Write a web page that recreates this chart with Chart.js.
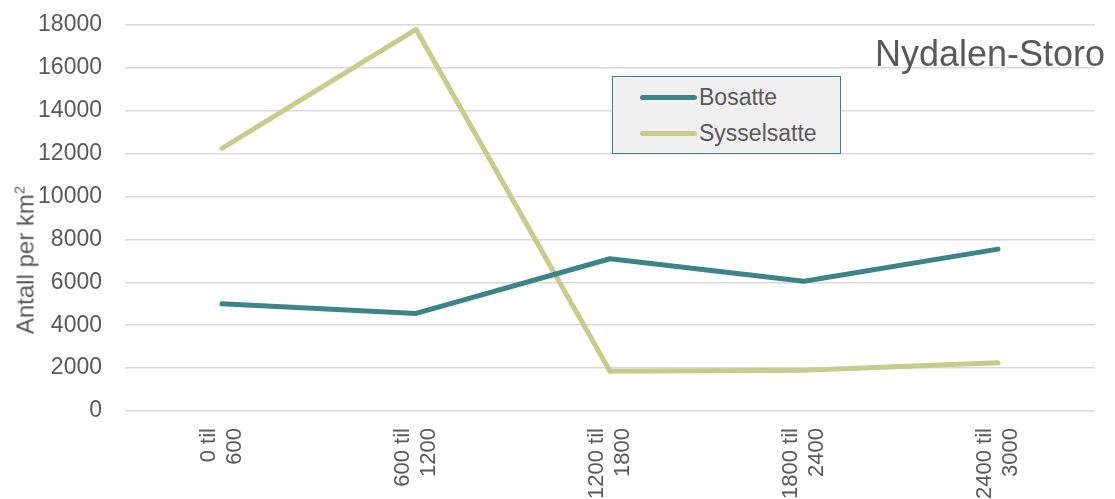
<!DOCTYPE html>
<html>
<head>
<meta charset="utf-8">
<script src="https://cdn.jsdelivr.net/npm/chart.js@4/dist/chart.umd.min.js"></script>
<style>
  body { margin: 0; background: #fff; font-family: "Liberation Sans", Arial, sans-serif; }
  #wrap { position: relative; width: 1115px; height: 499px; }
  #title { position: absolute; left: 875px; top: 33px; font-size: 36px; color: #595959; white-space: nowrap; }
  #ytitle { position: absolute; left: 25px; top: 260px; font-size: 24px; color: #595959; white-space: nowrap;
            transform: translate(-50%, -50%) rotate(-90deg); }
  #legend { position: absolute; left: 612px; top: 76px; width: 227px; height: 76px; background: #f0f0f0; border: 1.5px solid #3b8589; }
  .item { position: absolute; left: 27px; font-size: 23px; color: #595959; display: flex; align-items: center; }
  .item span.ln { display: inline-block; width: 57px; height: 5px; border-radius: 3px; margin-right: 2px; }
</style>
</head>
<body>
<div id="wrap">
  <canvas id="chart" width="1115" height="499"></canvas>
  <div id="title">Nydalen-Storo</div>
  <div id="ytitle">Antall per km<sup style="font-size:15px">2</sup></div>
  <div id="legend">
    <div class="item" style="top:7px"><span class="ln" style="background:#3b8589"></span>Bosatte</div>
    <div class="item" style="top:43px"><span class="ln" style="background:#c6cd8b"></span>Sysselsatte</div>
  </div>
</div>
<script>
const categories = [['0 til', '600'], ['600 til', '1200'], ['1200 til', '1800'], ['1800 til', '2400'], ['2400 til', '3000']];
const bosatte = [5000, 4550, 7100, 6050, 7550];
const sysselsatte = [12250, 17800, 1850, 1900, 2250];
const yTicks = [0, 2000, 4000, 6000, 8000, 10000, 12000, 14000, 16000, 18000];

const ctx = document.getElementById('chart');

new Chart(ctx, {
  type: 'line',
  data: {
    labels: categories,
    datasets: [{
      label: 'Bosatte',
      data: bosatte,
      borderColor: '#3b8589',
      borderWidth: 5,
      borderCapStyle: 'round',
      borderJoinStyle: 'round',
      pointRadius: 0,
      tension: 0
    }, {
      label: 'Sysselsatte',
      data: sysselsatte,
      borderColor: '#c6cd8b',
      borderWidth: 5,
      borderCapStyle: 'round',
      borderJoinStyle: 'round',
      pointRadius: 0,
      tension: 0
    }]
  },
  options: {
    responsive: false,
    animation: false,
    layout: { padding: { top: 25, right: 20, left: 0, bottom: 0 } },
    plugins: { legend: { display: false }, tooltip: { enabled: false } },
    scales: {
      x: {
        offset: true,
        grid: { display: false },
        border: { display: false },
        ticks: {
          autoSkip: false,
          minRotation: 90,
          maxRotation: 90,
          padding: 9,
          labelOffset: -13,
          color: '#595959',
          font: { family: 'Liberation Sans', size: 22 }
        },
        afterFit: function(scale) { scale.height = 88; }
      },
      y: {
        min: 0,
        max: 18000,
        afterBuildTicks: function(scale) { scale.ticks = yTicks.map(v => ({ value: v })); },
        grid: { color: '#d9d9d9', lineWidth: 1.5, drawTicks: false },
        border: { display: false },
        ticks: {
          color: '#595959',
          padding: 23,
          font: { family: 'Liberation Sans', size: 23 },
          callback: function(value) { return String(value); }
        },
        afterFit: function(scale) {
          scale.width = 125;
          scale.paddingTop = 0;
        }
      }
    }
  }
});
</script>
</body>
</html>
